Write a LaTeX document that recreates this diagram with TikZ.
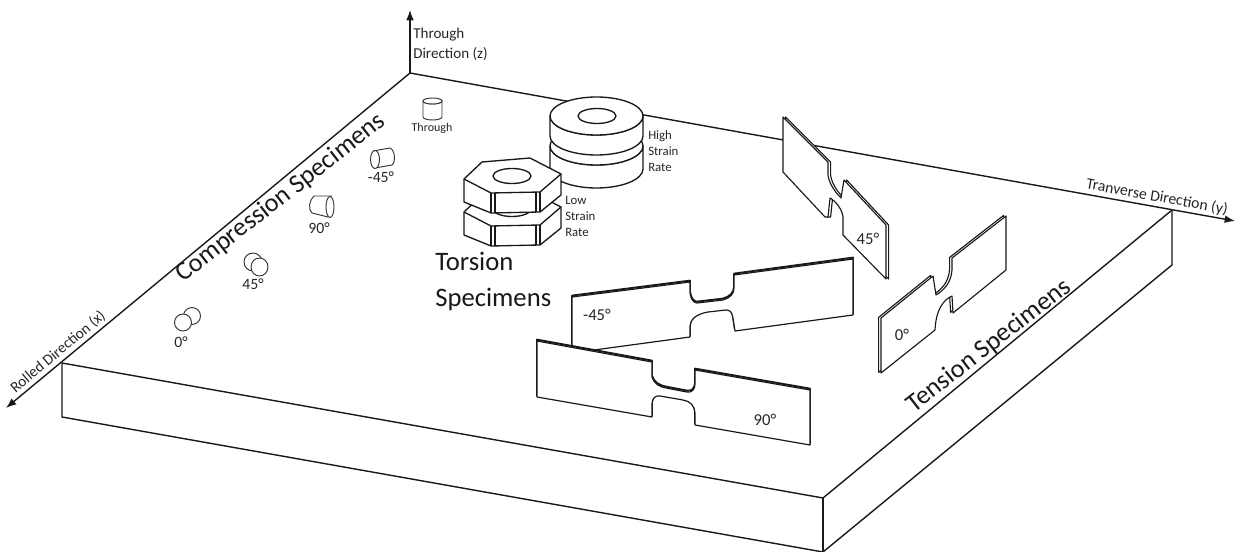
\documentclass[tikz,border=0pt]{standalone}
\usepackage{fontspec}
\setmainfont{Carlito}
\usetikzlibrary{arrows.meta,calc,positioning}

\begin{document}
\begin{tikzpicture}[x=.75pt,y=-.75pt,>=Latex,
  edge/.style={line width=1.05pt,draw=black!90},
  axis/.style={->,line width=1.05pt,draw=black!90},
  solid/.style={line width=1pt,draw=black!90,fill=white,line join=round},
  sheet/.style={draw=black!90,fill=white,line join=round},
  small/.style={line width=.7pt,draw=black!80,fill=white},
  lab/.style={align=left,anchor=west,inner sep=0pt,text=black!85,font=\fontsize{9.6}{12}\selectfont},
  deg/.style={inner sep=0pt,text=black!85,font=\fontsize{11.8}{13}\selectfont},
  big/.style={inner sep=0pt,text=black!90,font=\fontsize{19.6}{22}\selectfont}]
\useasboundingbox (0,0) rectangle (1236,552);
\coordinate (origin) at (410,73);
\coordinate (xtip) at (6,408);
\coordinate (ytip) at (1235,221);
\coordinate (ztip) at (410,10);
\coordinate (left) at (62,363);
\coordinate (front) at (823,498);
\coordinate (right) at (1172,210);
\coordinate (leftb) at (62,417);
\coordinate (frontb) at (823,552);
\coordinate (rightb) at (1172,265);
% plate
\draw[edge] (left)--(front)--(right);
\draw[edge] (left)--(leftb)--(frontb)--(rightb)--(right);
\draw[edge] (front)--(frontb);
\draw[axis] (origin)--(xtip);
\draw[axis] (origin)--(ytip);
\draw[axis] (origin)--(ztip);
% torsion discs
\foreach \cy/\h in {146/23,116/20}{
 \draw[solid] (550,\cy)--(550,\cy+\h) arc[start angle=180,end angle=0,x radius=46.5,y radius=19]
   --(643,\cy) arc[start angle=0,end angle=180,x radius=46.5,y radius=19];
 \draw[solid] (596.5,\cy) ellipse[x radius=46.5,y radius=19];
}
\draw[solid] (597,116) ellipse[x radius=19,y radius=7.5];
% torsion nuts
\foreach \dy in {33,0}{
 \begin{scope}[shift={(0,\dy)}]
  \draw[solid] (464,179)--(464,202)--(491,213)--(540,212)--(561,195)--(561,174)
    --(530,158)--(482,162)--cycle;
  \draw[solid] (464,179)--(491,193)--(540,192)--(561,174);
  \draw[solid] (491,193)--(491,213) (495,193)--(495,213) (536,192)--(536,212) (540,192)--(540,212);
  \draw[solid] (512,176) ellipse[x radius=19,y radius=7.5];
 \end{scope}
}
% compression specimens
\draw[small] (423,101)--(423,117) arc[start angle=180,end angle=0,x radius=9.5,y radius=3]
  --(442,101) arc[start angle=0,end angle=180,x radius=9.5,y radius=3];
\draw[small] (432.5,101) ellipse[x radius=9.5,y radius=3];
\draw[small] (373,151)--(390,148) .. controls (395,150) and (396,162) .. (392,165)--(375,168);
\draw[small] (375,159.5) ellipse[x radius=4.5,y radius=9];
\draw[small] (332,196)--(314,196) .. controls (309,200) and (308,210) .. (312,213)--(328,217);
\draw[small] (330,207) ellipse[x radius=4,y radius=10.5];
\draw[small] (253,262) circle[radius=9];
\draw[small] (259.5,267) ellipse[x radius=8.5,y radius=9];
\draw[small] (192,316) circle[radius=8.5];
\draw[small] (183,322.5) circle[radius=8.5];
% tension specimens
\foreach \dx/\dy/\w in {0/-1.4/1.4,0/0/.9}{
 \draw[sheet,line width=\w pt,shift={(\dx,\dy)}] (572,297)--(690,282)--(690,293)
   .. controls (691,300) and (694,303) .. (697,303)--(723,300)
   .. controls (730,298) and (734,294) .. (734,288)--(734,275)--(853,259)--(853,315)--(735,331)--(733,318)
   .. controls (732,312) and (730,310) .. (726,310)--(708,312)
   .. controls (696,314) and (690,320) .. (690,326)--(690,337)--(572,353)--cycle;
}
\foreach \dx/\dy/\w in {0/-1.4/1.4,0/0/.9}{
 \draw[sheet,line width=\w pt,shift={(\dx,\dy)}] (537,341)--(652,362)--(652,377)
   .. controls (654,384) and (660,387) .. (666,388)--(687,392)
   .. controls (692,393) and (695,389) .. (695,384)--(695,370)--(810,390)--(810,445)--(695,425)--(695,413)
   .. controls (695,406) and (690,401) .. (683,400)--(660,396)
   .. controls (655,395) and (652,399) .. (652,404)--(652,417)--(537,397)--cycle;
}
\foreach \dx/\dy in {2.6/0,0/0}{
 \draw[sheet,line width=.85pt,shift={(\dx,\dy)}] (783,117)--(828,162)--(828,175)
   .. controls (829,184) and (836,193) .. (841,198)--(844,180)--(886,225)--(886,279)--(843,235)--(843,217)
   .. controls (842,208) and (834,200) .. (830,198)--(828,217)--(825,217)--(783,172)--cycle;
}
\foreach \dx/\dy in {-2.4/-.6,0/0}{
 \draw[sheet,line width=.85pt,shift={(\dx,\dy)}] (881,318)--(933,276)--(936,295)
   .. controls (944,290) and (951,283) .. (952,270)--(952,258)--(1006,216)--(1006,270)--(953,313)--(952,296)
   .. controls (943,300) and (936,310) .. (935,330)--(881,373)--cycle;
}
% labels
\node[lab,font=\fontsize{11.3}{15}\selectfont] (zlab) at (413,44) {Through\\Direction (z)};
\node[lab,font=\fontsize{9}{12}\selectfont,anchor=center] (throughlab) at (432,128) {Through};
\node[lab] (highlab) at (648,151) {High\\Strain\\Rate};
\node[lab] (lowlab) at (565,216) {Low\\Strain\\Rate};
\node[big,align=left,anchor=west,font=\fontsize{20}{27}\selectfont] (torsionlab) at (435,281) {Torsion\\Specimens};
\node[big,rotate=38] (complab) at (281,198) {Compression Specimens};
\node[big,rotate=38] (tenslab) at (989,346) {Tension Specimens};
\node[deg,font=\fontsize{11.5}{12}\selectfont,rotate=40] (xlab) at (58,352) {Rolled Direction (x)};
\node[deg,font=\fontsize{11.8}{12}\selectfont,rotate=-10.2] (ylab) at (1157,197) {Tranverse Direction (y)};
\foreach \nm/\px/\py/\txt in {a/181/342/0,b/253/284/45,c/319/228/90,d/381/177/-45}{
 \node[deg] (deg\nm) at (\px,\py) {\txt°};
}
\foreach \nm/\px/\py/\txt in {e/597/315/-45,f/765/420/90,g/868/239/45,h/902/335/0}{
 \node[deg,font=\fontsize{12.5}{14}\selectfont] (deg\nm) at (\px,\py) {\txt°};
}
\end{tikzpicture}
\end{document}
